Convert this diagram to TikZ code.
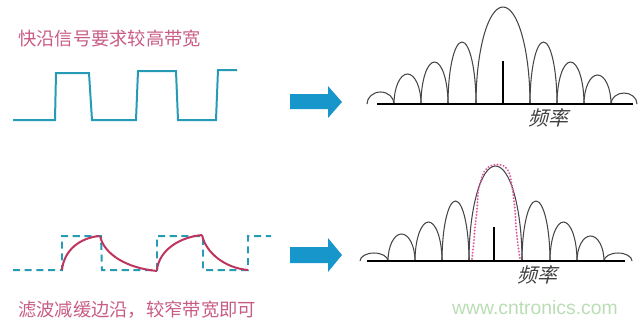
\documentclass[tikz,border=0pt]{standalone}
\usepackage{fontspec}
\usepackage{tikz}
\usepackage{xcolor}
\newfontfamily\cjk{Noto Sans CJK SC}
\newfontfamily\cjkslant[FakeSlant=0.25]{Noto Sans CJK SC}
\newfontfamily\webfont{Liberation Sans}
\definecolor{signalteal}{RGB}{38,155,182}
\definecolor{arrowblue}{RGB}{22,150,202}
\definecolor{filterred}{RGB}{190,52,92}
\definecolor{textpink}{RGB}{200,92,132}
\definecolor{dotpink}{RGB}{222,92,158}
\definecolor{lobegray}{RGB}{70,70,70}
\definecolor{webgreen}{RGB}{185,222,180}
\tikzset{
  lobe/.style={lobegray, line width=0.9pt},
  axisline/.style={black, line width=2pt},
  spike/.style={black, line width=2.4pt},
  label/.style={inner sep=0pt, anchor=west}
}

\begin{document}
\begin{tikzpicture}[x=0.03cm, y=-0.03cm]
\useasboundingbox (0,0) rectangle (640,324);
% top: fast edges
\node[label, textpink, font=\cjk\fontsize{15.6pt}{16pt}\selectfont] (title) at (18,39) {快沿信号要求较高带宽};
\draw[signalteal, line width=1.7pt] (13,120) -- (55,120) -- (56,73) -- (89,73) -- (92,120) -- (136,120) -- (138,71) -- (176,71) -- (178,120) -- (216,120) -- (218,70) -- (237,70);
\fill[arrowblue] (290,94) -- (328,94) -- (328,86) -- (342,102) -- (328,118) -- (328,109) -- (290,109) -- cycle;
\draw[lobe] (367,104) arc[start angle=180, end angle=360, x radius=13.5, y radius=12];
\foreach \a/\w/\h in {394/27/30, 421/27/42, 448/28/62, 476/54/97, 530/27/62, 557/27/42, 584/27/29}
  \draw[lobe] (\a,104) arc[start angle=180, end angle=360, x radius={\w/2}, y radius=\h];
\draw[lobe] (611,104) arc[start angle=180, end angle=360, x radius=13, y radius=11];
\draw[axisline] (377,104) -- (633,104);
\draw[spike] (503,61) -- (503,104);
\node[label, black!75, font=\cjkslant\fontsize{17pt}{17pt}\selectfont] (freqA) at (528,118) {频率};
% bottom: filtered edges
\draw[signalteal, line width=1.7pt, dash pattern=on 6pt off 4pt] (13,270) -- (62,270) -- (62,236) -- (101,236) -- (102,270) -- (157,270) -- (157,236) -- (203,236) -- (203,270) -- (248,270) -- (248,236) -- (271,236);
\draw[filterred, line width=1.7pt] (62,270) .. controls (64,250) and (80,238) .. (99,236);
\draw[filterred, line width=1.7pt] (100,236) .. controls (104,254) and (126,268) .. (157,271);
\draw[filterred, line width=1.7pt] (157,270) .. controls (159,250) and (180,237) .. (202,235);
\draw[filterred, line width=1.7pt] (202,235) .. controls (206,253) and (225,268) .. (248,270);
\fill[arrowblue] (290,247) -- (328,247) -- (328,238) -- (342,255) -- (328,272) -- (328,263) -- (290,263) -- cycle;
\draw[lobe] (360,261) arc[start angle=180, end angle=360, x radius=14, y radius=8];
\foreach \a/\w/\h in {388/27/27, 415/27/39, 442/27/60, 469/53/95, 522/28/60, 550/27/39, 577/27/25}
  \draw[lobe] (\a,261) arc[start angle=180, end angle=360, x radius={\w/2}, y radius=\h];
\draw[lobe] (604,261) arc[start angle=180, end angle=360, x radius=14, y radius=8];
\draw[axisline] (367,261) -- (625,261);
\draw[spike] (494,227) -- (494,261);
\draw[dotpink, line width=1.8pt, line cap=round, dash pattern=on 0.1pt off 2.6pt] plot[smooth] coordinates {(472,259) (474,240) (475,227) (477,210) (478,193) (481,180) (484,172) (490,166) (497,164.5) (504,166) (509,172) (511,180) (513,193) (515,210) (516,227) (518,245) (520,259)};
\node[label, black!75, font=\cjkslant\fontsize{17pt}{17pt}\selectfont] (freqB) at (517,275) {频率};
\node[label, textpink, font=\cjk\fontsize{15.6pt}{16pt}\selectfont] (note) at (18,310) {滤波减缓边沿，较窄带宽即可};
\node[label, webgreen, font=\webfont\fontsize{16.5pt}{17pt}\selectfont] (site) at (452,308) {www.cntronics.com};
\end{tikzpicture}
\end{document}
